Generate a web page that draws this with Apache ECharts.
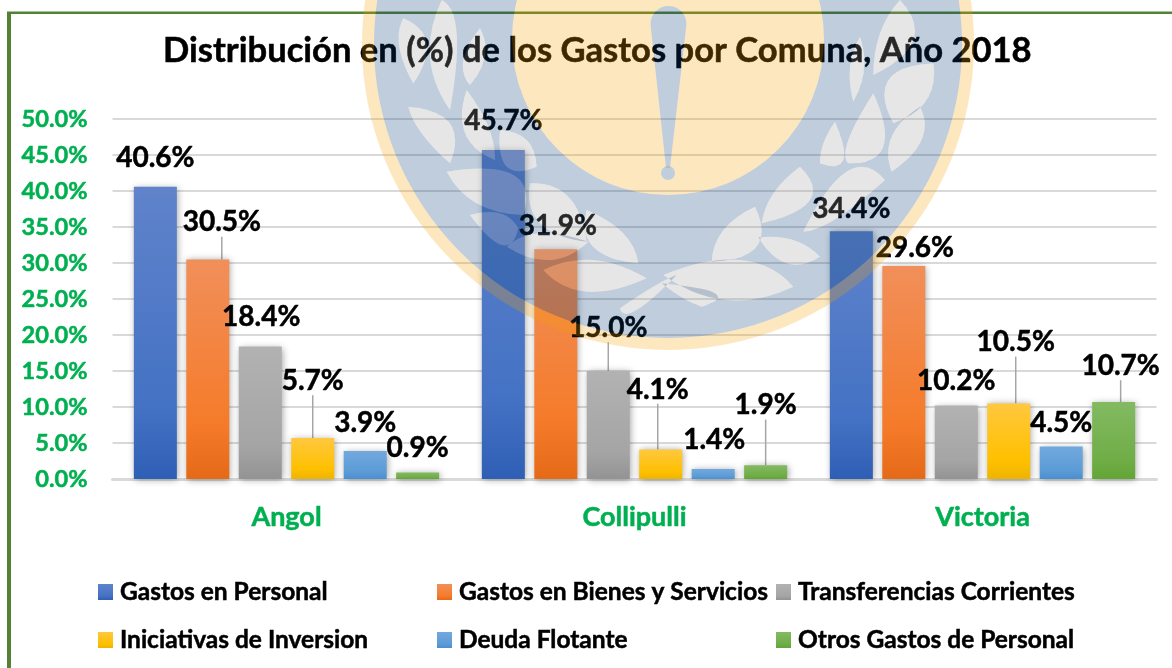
<!DOCTYPE html>
<html>
<head>
<meta charset="utf-8">
<style>html,body{margin:0;padding:0;background:#fff}#c{width:1172px;height:668px}</style>
<script src="https://cdn.jsdelivr.net/npm/echarts@6/dist/echarts.min.js"></script>
</head>
<body>
<div id="c"></div>
<script>
const categories = ['Angol', 'Collipulli', 'Victoria'];
const gastosPersonal = [40.6, 45.7, 34.4];
const bienesServicios = [30.5, 31.9, 29.6];
const transferencias = [18.4, 15.0, 10.2];
const iniciativas = [5.7, 4.1, 10.5];
const deudaFlotante = [3.9, 1.4, 4.5];
const otrosGastos = [0.9, 1.9, 10.7];
const seriesNames = ['Gastos en Personal', 'Gastos en Bienes y Servicios', 'Transferencias Corrientes',
  'Iniciativas de Inversion', 'Deuda Flotante', 'Otros Gastos de Personal'];
const seriesValues = [gastosPersonal, bienesServicios, transferencias, iniciativas, deudaFlotante, otrosGastos];

// styling: gradient stops per series
const gradients = [
  ['#6083CB', '#4472C4', '#2F5FB5'],
  ['#F18F5A', '#F57B2A', '#E46A18'],
  ['#B2B2B2', '#A5A5A5', '#939393'],
  ['#FFC83F', '#FFC000', '#EDB400'],
  ['#72A9DE', '#5B9BD5', '#4A8FD2'],
  ['#83BA62', '#70AD47', '#62A535']
];
// label displacement [dx, gap above the bar top], per series then category
const labelMoves = [
  [[0, 29], [0, 29], [0, 22]],
  [[14, 37], [2, 23], [11, 18]],
  [[1, 30], [0, 43], [0, 25]],
  [[0, 57], [-3, 60], [7, 61]],
  [[0, 28], [1, 29], [0, 24]],
  [[0, 25], [0, 60], [7, 36]]
];
const leaderLines = [
  [0, 0, 0],
  [1, 0, 0],
  [0, 1, 0],
  [1, 1, 1],
  [0, 0, 0],
  [0, 1, 1]
];

// ---- decorative watermark (university seal), drawn translucent above the chart ----
const sealX = 668, outerY = 44, innerY = 39;
function circlePath(r, cw, cx, cy) {
  const s = cw ? 1 : 0;
  return `M${cx - r} ${cy}A${r} ${r} 0 1 ${s} ${cx + r} ${cy}A${r} ${r} 0 1 ${s} ${cx - r} ${cy}Z`;
}
const c5 = p => [360 + p[0] / 3, p[1] / 3];
const c6 = p => [660 + p[0] / 3, p[1] / 3];
const leafShapes = [
  [c5, [130, 55], [160, 250], [200, 130], [118, 140]],
  [c5, [245, 0], [270, 330], [290, 100], [210, 170]],
  [c5, [360, 85], [330, 255], [375, 170], [310, 180]],
  [c5, [145, 320], [270, 490], [270, 370], [185, 400]],
  [c5, [320, 270], [405, 480], [385, 380], [315, 400]],
  [c5, [420, 390], [530, 500], [500, 420], [440, 500]],
  [c5, [260, 515], [490, 645], [460, 525], [350, 610]],
  [c5, [510, 550], [680, 725], [625, 590], [540, 670]],
  [c5, [330, 645], [475, 685], [420, 640], [425, 735]],
  [c5, [440, 740], [685, 725], [540, 700], [570, 780]],
  [c5, [680, 630], [835, 790], [790, 700], [700, 740]],
  [c5, [550, 810], [860, 835], [700, 780], [680, 875]],
  [c5, [780, 925], [950, 825], [880, 860], [830, 930]],
  [c6, [720, 0], [640, 225], [760, 120], [660, 100]],
  [c6, [600, 110], [580, 305], [612, 210], [570, 200]],
  [c6, [820, 190], [700, 370], [800, 300], [685, 240]],
  [c6, [780, 320], [695, 515], [785, 420], [695, 410]],
  [c6, [640, 280], [565, 490], [670, 440], [565, 420]],
  [c6, [525, 365], [480, 490], [550, 480], [490, 430]],
  [c6, [420, 500], [305, 670], [450, 600], [340, 580]],
  [c6, [675, 540], [430, 695], [560, 515], [530, 655]],
  [c6, [285, 620], [155, 785], [290, 740], [190, 690]],
  [c6, [295, 712], [480, 770], [400, 720], [380, 790]],
  [c6, [400, 860], [10, 825], [240, 780], [200, 900]],
  [c6, [125, 920], [5, 850], [165, 880], [70, 895]]
];
function leafPath(spec, reverse) {
  const f = spec[0], a = f(spec[1]), b = f(spec[2]);
  let p = f(spec[3]), q = f(spec[4]);
  // orient clockwise on screen
  const pts = [a, p, b, q]; let area = 0;
  pts.forEach((u, i) => { const v = pts[(i + 1) % 4]; area += u[0] * v[1] - v[0] * u[1]; });
  if (area < 0) { const t = p; p = q; q = t; }
  const ctl = m => [2 * m[0] - (a[0] + b[0]) / 2, 2 * m[1] - (a[1] + b[1]) / 2];
  const c1 = ctl(p), c2 = ctl(q);
  return reverse
    ? `M${a}Q${c2} ${b}Q${c1} ${a}Z`
    : `M${a}Q${c1} ${b}Q${c2} ${a}Z`;
}
const markCw = `M650.5 24A18 18 0 0 1 686.5 24L670 168L666 168Z` + circlePath(7, true, 668, 173);
const markCcw = `M650.5 24L666 168L670 168L686.5 24A18 18 0 0 0 650.5 24Z` + circlePath(7, false, 668, 173);
const pathOrange = circlePath(306, true, sealX, outerY) + circlePath(294, false, sealX, outerY);
const pathBlue = circlePath(294, true, sealX, outerY) + circlePath(156, false, sealX, innerY) + markCw + leafShapes.map(l => leafPath(l, true)).join('');
const pathYellow = circlePath(156, true, sealX, innerY) + markCcw;
const pathLeaves = leafShapes.map(l => leafPath(l, false)).join('');
echarts.graphic.registerShape('sealOrange', echarts.graphic.extendPath(pathOrange, {}));
echarts.graphic.registerShape('sealBlue', echarts.graphic.extendPath(pathBlue, {}));
echarts.graphic.registerShape('sealYellow', echarts.graphic.extendPath(pathYellow, {}));
echarts.graphic.registerShape('sealLeaves', echarts.graphic.extendPath(pathLeaves, {}));

const FONT = 'Lato';
const heavy = c => ({ textBorderColor: c, textBorderWidth: 0.5 });
const chart = echarts.init(document.getElementById('c'), null, { renderer: 'canvas' });

const series = seriesNames.map((name, s) => ({
  name,
  type: 'bar',
  barWidth: 43,
  barGap: '22%',
  data: seriesValues[s].map((v, i) => ({
    value: v,
    labelLine: { show: !!leaderLines[s][i] }
  })),
  itemStyle: {
    color: {
      type: 'linear', x: 0, y: 0, x2: 0, y2: 1,
      colorStops: [
        { offset: 0, color: gradients[s][0] },
        { offset: 0.75, color: gradients[s][1] },
        { offset: 1, color: gradients[s][2] }
      ]
    },
    shadowBlur: 7, shadowColor: 'rgba(0,0,0,0.38)', shadowOffsetX: 1, shadowOffsetY: 1
  },
  label: {
    show: true,
    position: 'top',
    distance: 0,
    formatter: p => p.value.toFixed(1) + '%',
    fontFamily: FONT, fontWeight: 'bold', fontSize: 28, color: '#000', ...heavy('#000')
  },
  labelLine: { show: false, lineStyle: { color: '#A6A6A6', width: 1.5 } },
  labelLayout: p => {
    const mv = labelMoves[p.seriesIndex][p.dataIndex];
    return { dx: mv[0], dy: 14 - mv[1], hideOverlap: false };
  }
}));

chart.setOption({
  animation: false,
  backgroundColor: '#fff',
  title: {
    text: 'Distribución en (%) de los Gastos por Comuna, Año 2018',
    left: 163, top: 33,
    padding: 0,
    textStyle: { fontFamily: FONT, fontWeight: 'bold', fontSize: 34.6, color: '#000', ...heavy('#000') }
  },
  grid: { left: 112.5, right: 15.5, top: 119, bottom: 189, containLabel: false },
  xAxis: {
    type: 'category',
    data: categories,
    axisTick: { show: false },
    axisLine: { show: true, lineStyle: { color: '#D9D9D9', width: 3 } },
    axisLabel: { margin: 25, fontFamily: FONT, fontWeight: 'bold', fontSize: 27, color: '#00B050', ...heavy('#00B050') }
  },
  yAxis: {
    type: 'value',
    min: 0, max: 50, interval: 5,
    axisLine: { show: false },
    axisTick: { show: false },
    splitLine: { lineStyle: { color: '#D9D9D9', width: 2 } },
    axisLabel: {
      margin: 25,
      formatter: v => v.toFixed(1) + '%',
      fontFamily: FONT, fontWeight: 'bold', fontSize: 23.6, color: '#00B050', ...heavy('#00B050')
    }
  },
  legend: {
    left: 98, top: 568, width: 1030,
    padding: 0,
    itemGap: 0,
    itemWidth: 15, itemHeight: 16,
    icon: 'rect',
    itemStyle: { shadowBlur: 0, shadowColor: 'transparent', shadowOffsetX: 0, shadowOffsetY: 0 },
    data: seriesNames,
    textStyle: {
      width: 317, lineHeight: 48, padding: [0, 0, 0, 2],
      fontFamily: FONT, fontWeight: 'bold', fontSize: 24.5, color: '#000', ...heavy('#000')
    }
  },
  series,
  graphic: { elements: [
    { type: 'rect', z: 90, silent: true, shape: { x: 7, y: 12, width: 4, height: 656 }, style: { fill: '#548235' } },
    { type: 'rect', z: 90, silent: true, shape: { x: 7, y: 11.5, width: 1165, height: 2.5 }, style: { fill: '#548235' } },
    { type: 'sealOrange', z: 100, silent: true, style: { fill: 'rgba(247,160,0,0.25)' } },
    { type: 'sealYellow', z: 100, silent: true, style: { fill: 'rgba(247,160,0,0.25)' } },
    { type: 'sealBlue', z: 100, silent: true, style: { fill: 'rgba(0,56,116,0.25)' } },
    { type: 'sealLeaves', z: 100, silent: true, style: { fill: 'rgba(156,156,156,0.25)' } }
  ] }
});
</script>
</body>
</html>
